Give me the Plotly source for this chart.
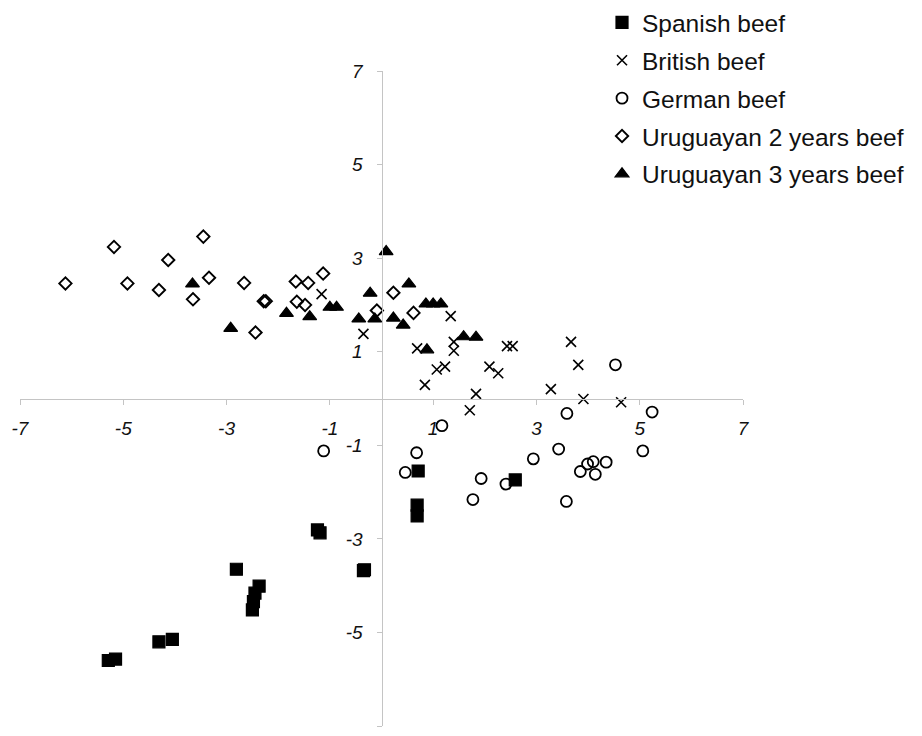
import plotly.graph_objects as go

# ---- data ----
spanish_x = [0.71, 2.59, 0.69, 0.69, -1.24, -1.19, -0.35, -0.33, -2.81, -2.37, -2.45, -2.48, -2.50, -4.31, -4.05, -5.29, -5.15]
spanish_y = [-1.55, -1.74, -2.28, -2.51, -2.81, -2.87, -3.68, -3.66, -3.65, -4.01, -4.16, -4.34, -4.52, -5.20, -5.15, -5.60, -5.57]

british_x = [-1.16, -0.35, 1.34, 0.69, 1.40, 1.40, 1.07, 1.23, 0.84, 2.09, 2.26, 2.43, 2.54, 1.83, 1.71, 3.67, 3.81, 3.28, 3.91, 4.64]
british_y = [2.23, 1.38, 1.76, 1.07, 1.21, 1.02, 0.62, 0.68, 0.29, 0.68, 0.54, 1.12, 1.12, 0.10, -0.25, 1.21, 0.72, 0.20, -0.01, -0.08]

german_x = [4.53, 5.24, 3.59, 1.17, -1.12, 0.68, 0.46, 1.93, 2.41, 1.77, 2.94, 3.43, 3.85, 3.99, 4.10, 4.35, 4.14, 3.58, 5.06]
german_y = [0.72, -0.29, -0.32, -0.58, -1.12, -1.16, -1.58, -1.71, -1.83, -2.16, -1.29, -1.08, -1.56, -1.40, -1.35, -1.36, -1.62, -2.20, -1.12]

uru2_x = [-6.12, -5.18, -4.92, -4.31, -4.13, -3.45, -3.34, -3.65, -2.66, -2.44, -2.28, -2.24, -1.66, -1.42, -1.13, -1.64, -1.48, 0.23, -0.09, 0.62]
uru2_y = [2.46, 3.24, 2.46, 2.32, 2.96, 3.46, 2.58, 2.12, 2.47, 1.41, 2.08, 2.08, 2.50, 2.47, 2.67, 2.07, 2.00, 2.26, 1.88, 1.83]

uru3_x = [-3.66, -2.92, -1.84, -1.39, -1.00, -0.87, -0.22, 0.09, -0.44, -0.13, 0.23, 0.42, 0.53, 0.86, 1.00, 1.15, 0.88, 1.59, 1.83]
uru3_y = [2.45, 1.50, 1.82, 1.75, 1.95, 1.95, 2.25, 3.14, 1.70, 1.70, 1.72, 1.57, 2.45, 2.02, 2.02, 2.02, 1.04, 1.32, 1.31]

tick_vals = [-7, -5, -3, -1, 1, 3, 5, 7]
tick_text = ["-7", "-5", "-3", "-1", "1", "3", "5", "7"]

FONT = "Arial, 'Liberation Sans', sans-serif"

fig = go.Figure()
fig.add_trace(go.Scatter(x=spanish_x, y=spanish_y, mode="markers", name="Spanish beef",
                         legendgroup="a",
                         marker=dict(symbol="square", size=12, color="black",
                                     line=dict(color="black", width=1.2))))
fig.add_trace(go.Scatter(x=british_x, y=british_y, mode="markers", name="British beef",
                         legendgroup="b",
                         marker=dict(symbol="x-thin", size=10, color="black",
                                     line=dict(color="black", width=1.6))))
fig.add_trace(go.Scatter(x=german_x, y=german_y, mode="markers", name="German beef",
                         legendgroup="c",
                         marker=dict(symbol="circle-open", size=11, color="black",
                                     line=dict(color="black", width=1.8))))
fig.add_trace(go.Scatter(x=uru2_x, y=uru2_y, mode="markers", name="Uruguayan 2 years beef",
                         legendgroup="d",
                         marker=dict(symbol="diamond-open", size=9.5, color="black",
                                     line=dict(color="black", width=1.9))))
fig.add_trace(go.Scatter(x=uru3_x, y=uru3_y, mode="markers", name="Uruguayan 3 years beef",
                         legendgroup="e",
                         marker=dict(symbol="triangle-up", size=12, color="black",
                                     line=dict(color="black", width=1.2))))

# plot region: 726 px tall below a 0 px top margin; the axes span the lower part
Y_DOMAIN_TOP = 655.0 / 726.0

axis_common = dict(
    range=[-7, 7], showgrid=False, zeroline=False, showline=True,
    linecolor="#c4c4c4", linewidth=1, ticks="outside", ticklen=5,
    tickcolor="#c4c4c4", tickwidth=1, tickvals=tick_vals, ticktext=tick_text,
    tickfont=dict(family=FONT, size=19, color="#111111", style="italic"),
    anchor="free", automargin=False,
)

fig.update_layout(
    width=922, height=736,
    margin=dict(l=20, r=179, t=0, b=10),
    paper_bgcolor="white", plot_bgcolor="white",
    xaxis=dict(**axis_common, domain=[0, 1], position=Y_DOMAIN_TOP / 2, ticklabelstandoff=8),
    yaxis=dict(**axis_common, domain=[0, Y_DOMAIN_TOP], position=0.5, ticklabelstandoff=10),
    showlegend=True,
    legend=dict(x=0.805, y=1.0, xanchor="left", yanchor="top",
                font=dict(family=FONT, size=24.5, color="#111111"),
                tracegroupgap=3, traceorder="grouped",
                bgcolor="rgba(0,0,0,0)", borderwidth=0),
)

fig.write_html("out.html",
               config={"displayModeBar": False},
               post_script="document.body.style.margin='0';document.body.style.overflow='hidden';")
